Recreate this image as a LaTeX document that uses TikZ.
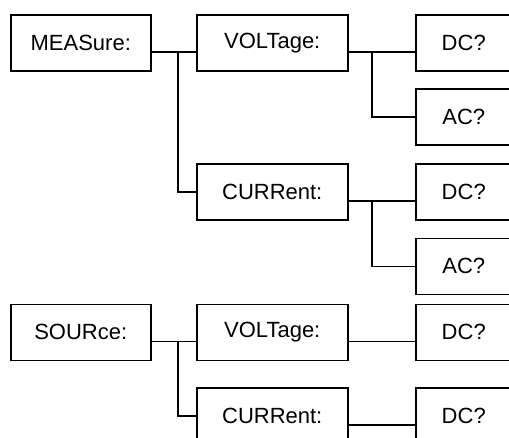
\documentclass[tikz,border=0pt]{standalone}
\usepackage{fontspec}
\setmainfont{Liberation Sans}

\tikzset{
	cmdbox/.style={draw, line width=1.5pt, inner sep=0pt, anchor=north west, minimum height=56pt, font=\fontsize{22}{26}\selectfont},
	rootbox/.style={cmdbox, minimum width=140pt},
	subbox/.style={cmdbox, minimum width=151pt},
	leafbox/.style={cmdbox, minimum width=96pt},
	wire/.style={line width=1.5pt}
}

\begin{document}
\begin{tikzpicture}[x=1pt, y=1pt]
		\useasboundingbox (0,0) rectangle (509,-437);
		\clip (0,0) rectangle (509,-437);
		\node[rootbox] (meas) at (10,-14) {MEASure:};
		\node[subbox] (volt1) at (196,-14) {VOLTage:};
		\node[leafbox] (dc1) at (415,-14) {DC?};
		\node[leafbox] (ac1) at (415,-88) {AC?};
		\node[subbox] (curr1) at (196,-163) {CURRent:};
		\node[leafbox] (dc2) at (415,-163) {DC?};
		\node[leafbox] (ac2) at (415,-237.5) {AC?};
		\node[rootbox] (src) at (10,-303.5) {SOURce:};
		\node[subbox] (volt2) at (196,-303.5) {VOLTage:};
		\node[leafbox] (dc3) at (415,-303.5) {DC?};
		\node[subbox] (curr2) at (196,-387) {CURRent:};
		\node[leafbox] (dc4) at (415,-387) {DC?};
		\coordinate (j1) at (178,-51);
		\coordinate (j2) at (372,-51);
		\coordinate (j3) at (372,-200);
		\coordinate (j4) at (178,-340.5);
		\draw[wire] ([yshift=-9pt]meas.east) -- ([yshift=-9pt]volt1.west);
		\draw[wire] (j1) |- (curr1.west);
		\draw[wire] ([yshift=-9pt]volt1.east) -- ([yshift=-9pt]dc1.west);
		\draw[wire] (j2) |- (ac1.west);
		\draw[wire] ([yshift=-9pt]curr1.east) -- ([yshift=-9pt]dc2.west);
		\draw[wire] (j3) |- (ac2.west);
		\draw[wire] ([yshift=-9pt]src.east) -- ([yshift=-9pt]volt2.west);
		\draw[wire] (j4) |- (curr2.west);
		\draw[wire] ([yshift=-9pt]volt2.east) -- ([yshift=-9pt]dc3.west);
		\draw[wire] ([yshift=-9pt]curr2.east) -- ([yshift=-9pt]dc4.west);
	\end{tikzpicture}
\end{document}
